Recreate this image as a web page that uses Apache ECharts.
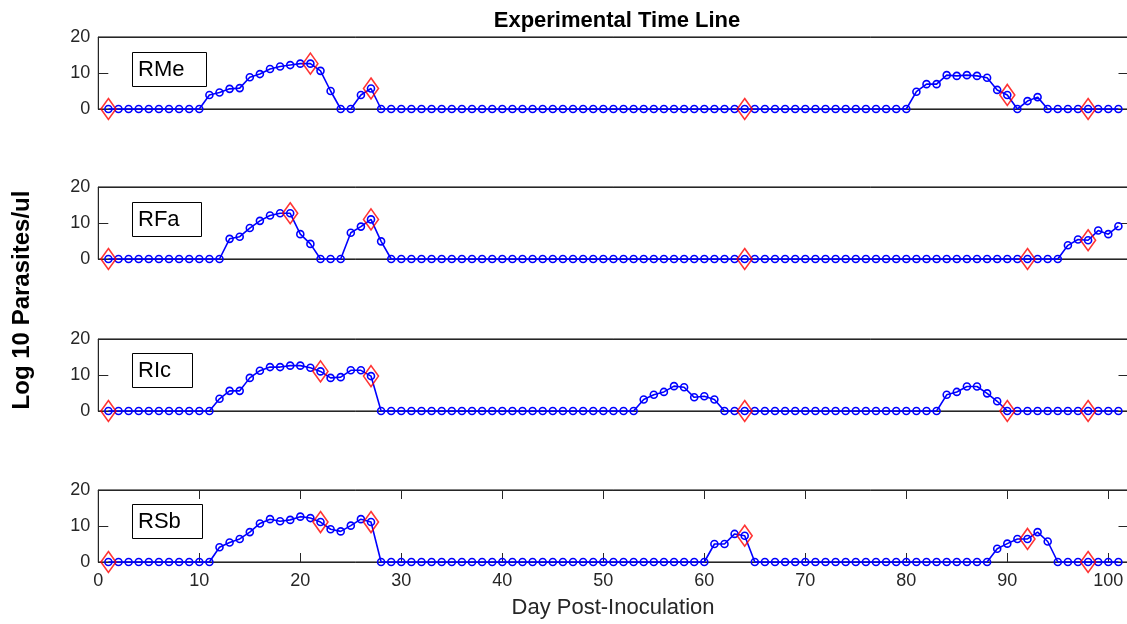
<!DOCTYPE html>
<html>
<head>
<meta charset="utf-8">
<script src="https://cdn.jsdelivr.net/npm/echarts@6/dist/echarts.min.js"></script>
<style>html,body{margin:0;padding:0;background:#fff;}#c{width:1127px;height:624px;}</style>
</head>
<body>
<div id="c"></div>
<script>
// Days 1..101
const days = Array.from({length: 101}, (_, i) => i + 1);
const names = ['RMe', 'RFa', 'RIc', 'RSb'];
const xTicks = [0, 10, 20, 30, 40, 50, 60, 70, 80, 90, 100];
const yTicks = [0, 10, 20];

function z(n) { return new Array(n).fill(0); }

// RMe values (days 1..101)
const rme = [].concat(
  z(10),
  [3.9, 4.6, 5.6, 5.8, 8.8, 9.7, 11.1, 11.8, 12.2, 12.6, 12.6, 10.6, 5.0, 0, 0, 3.9, 5.7],
  z(53),
  [4.8, 6.9, 6.9, 9.4, 9.2, 9.4, 9.2, 8.7, 5.3, 3.9, 0, 2.2, 3.3],
  z(8)
);
// RFa
const rfa = [].concat(
  z(12),
  [5.6, 6.2, 8.6, 10.6, 12.1, 12.7, 12.7, 6.9, 4.2, 0, 0, 0, 7.3, 9.0, 11.0, 4.9],
  z(67),
  [3.8, 5.4, 5.2, 7.9, 6.9, 9.1]
);
// RIc
const ric = [].concat(
  z(11),
  [3.4, 5.6, 5.6, 9.2, 11.2, 12.2, 12.2, 12.6, 12.6, 12.0, 11.0, 9.2, 9.4, 11.3, 11.3, 9.7],
  z(26),
  [3.2, 4.5, 5.3, 6.9, 6.6, 3.8, 4.1, 3.2],
  z(22),
  [4.5, 5.3, 6.8, 6.8, 4.9, 2.7],
  z(12)
);
// RSb
const rsb = [].concat(
  z(11),
  [4.1, 5.4, 6.4, 8.3, 10.7, 11.9, 11.3, 11.7, 12.6, 12.2, 11.1, 9.1, 8.5, 10.1, 11.9, 11.1],
  z(33),
  [5.0, 5.0, 7.8, 7.3],
  z(24),
  [3.7, 5.1, 6.4, 6.4, 8.3, 5.7],
  z(7)
);
const seriesValues = [rme, rfa, ric, rsb];

// Diamond marker days
const markDays = [
  [1, 21, 27, 64, 90, 98],
  [1, 19, 27, 64, 92, 98],
  [1, 22, 27, 64, 90, 98],
  [1, 22, 27, 64, 92, 98]
];

const tops = [37, 187, 339, 490];
const gridLeft = 98.3, gridW = 1030.2, gridH = 72;
const axisCol = '#262626';

const grids = [], xAxes = [], yAxes = [], series = [], titles = [];
titles.push({
  text: 'Experimental Time Line', left: 612, top: 5, textAlign: 'center',
  textStyle: {fontFamily: 'Liberation Sans', fontWeight: 'bold', fontSize: 22, color: '#000'}
});
const boxTops = [52, 202, 353, 504];

for (let i = 0; i < 4; i++) {
  const last = i === 3;
  grids.push({left: gridLeft, top: tops[i], width: gridW, height: gridH, show: true,
    outerBoundsMode: 'none', containLabel: false,
    borderColor: '#000', borderWidth: 1, backgroundColor: 'transparent'});
  xAxes.push({
    gridIndex: i, type: 'value', min: 0, max: 102, interval: 10, position: 'bottom',
    axisLine: {show: true, onZero: false, lineStyle: {color: axisCol, width: 1}},
    axisTick: {show: last, inside: true, length: 9, lineStyle: {color: axisCol}},
    axisLabel: {show: last, margin: 10, fontSize: 18, fontFamily: 'Liberation Sans', color: axisCol,
      formatter: v => xTicks.indexOf(v) >= 0 ? String(v) : ''},
    splitLine: {show: false}
  });
  xAxes.push({
    gridIndex: i, type: 'value', min: 0, max: 102, interval: 10, position: 'top',
    axisLine: {show: true, onZero: false, lineStyle: {color: axisCol, width: 1}},
    axisTick: {show: last, inside: true, length: 9, lineStyle: {color: axisCol}},
    axisLabel: {show: false}, splitLine: {show: false}
  });
  yAxes.push({
    gridIndex: i, type: 'value', min: 0, max: 20, interval: 10, position: 'left',
    axisLine: {show: true, onZero: false, lineStyle: {color: axisCol, width: 1}},
    axisTick: {show: true, inside: true, length: 10, lineStyle: {color: axisCol}},
    axisLabel: {show: true, margin: 8, fontSize: 18, fontFamily: 'Liberation Sans', color: axisCol,
      formatter: v => yTicks.indexOf(v) >= 0 ? String(v) : ''},
    splitLine: {show: false}
  });
  yAxes.push({
    gridIndex: i, type: 'value', min: 0, max: 20, interval: 10, position: 'right',
    axisLine: {show: true, onZero: false, lineStyle: {color: axisCol, width: 1}},
    axisTick: {show: true, inside: true, length: 10, lineStyle: {color: axisCol}},
    axisLabel: {show: false}, splitLine: {show: false}
  });
  const vals = seriesValues[i];
  series.push({
    type: 'line', xAxisIndex: 2 * i, yAxisIndex: 2 * i,
    data: days.map((d, k) => [d, vals[k]]),
    symbol: 'circle', symbolSize: 7, showAllSymbol: true, clip: false,
    lineStyle: {color: '#0000ff', width: 1.6},
    itemStyle: {color: 'rgba(0,0,0,0)', borderColor: '#0000ff', borderWidth: 1.6},
    emphasis: {disabled: true}, animation: false, z: 2
  });
  series.push({
    type: 'scatter', xAxisIndex: 2 * i, yAxisIndex: 2 * i,
    data: markDays[i].map(d => [d, vals[d - 1]]),
    symbol: 'diamond', symbolSize: [15, 21], clip: false,
    itemStyle: {color: 'rgba(0,0,0,0)', borderColor: '#ff0000', borderWidth: 1.6},
    emphasis: {disabled: true}, animation: false, z: 3
  });
  titles.push({
    text: names[i], left: 132, top: boxTops[i],
    borderColor: '#000', borderWidth: 1, backgroundColor: '#fff',
    padding: [6, 22, 6, 6],
    textStyle: {fontFamily: 'Liberation Sans', fontWeight: 'normal', fontSize: 22, lineHeight: 23, color: '#000'}
  });
}

const chart = echarts.init(document.getElementById('c'), null, {renderer: 'canvas'});
chart.setOption({
  animation: false,
  backgroundColor: '#fff',
  title: titles,
  grid: grids,
  xAxis: xAxes,
  yAxis: yAxes,
  series: series,
  graphic: [
    {type: 'text', x: 22, y: 300, rotation: Math.PI / 2,
      style: {text: 'Log 10 Parasites/ul', fontFamily: 'Liberation Sans', fontWeight: 'bold', fontSize: 24,
        fill: '#000', textAlign: 'center', textVerticalAlign: 'middle'}},
    {type: 'text', x: 613, y: 608,
      style: {text: 'Day Post-Inoculation', fontFamily: 'Liberation Sans', fontSize: 22,
        fill: '#262626', textAlign: 'center', textVerticalAlign: 'middle'}}
  ]
});
</script>
</body>
</html>
